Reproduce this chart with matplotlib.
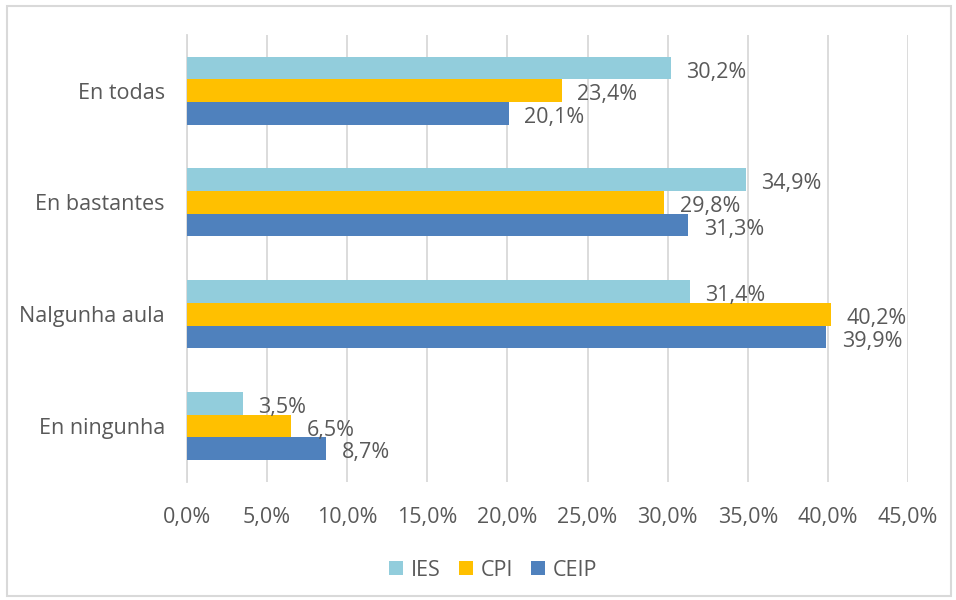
import numpy as np
import matplotlib.pyplot as plt
from matplotlib.ticker import FuncFormatter

categories = ["En todas", "En bastantes", "Nalgunha aula", "En ningunha"]
series = ["IES", "CPI", "CEIP"]
ies = [30.2, 34.9, 31.4, 3.5]
cpi = [23.4, 29.8, 40.2, 6.5]
ceip = [20.1, 31.3, 39.9, 8.7]
colors = ["#92CDDC", "#FFC000", "#4F81BD"]
txt = "#595959"
fs = 15.5

plt.rcParams['font.family'] = ['Open Sans', 'DejaVu Sans']

fig = plt.figure(figsize=(9.56, 6.0), dpi=100)
ax = fig.add_axes([0.1956, 0.197, 0.7542, 0.745])

y = np.arange(len(categories))[::-1].astype(float)
h = 0.203
for i, (name, vals, c) in enumerate(zip(series, [ies, cpi, ceip], colors)):
    pos = y + h * (1 - i)
    ax.barh(pos, vals, height=h, color=c, label=name, zorder=3)
    for p, v in zip(pos, vals):
        ax.annotate(f"{v:.1f}%".replace(".", ","), (v, p), xytext=(11, -3),
                    textcoords="offset points", va="center", ha="left",
                    fontsize=fs, color=txt, zorder=4)

ax.set_xlim(0, 45)
ax.set_ylim(-0.5, 3.5)
ax.set_xticks(np.arange(0, 46, 5))
ax.xaxis.set_major_formatter(FuncFormatter(lambda v, _: f"{v:.1f}%".replace(".", ",")))
ax.set_yticks(y)
ax.set_yticklabels(categories)
ax.tick_params(axis="both", length=0, labelsize=fs, colors=txt)
ax.tick_params(axis="x", pad=18)
ax.tick_params(axis="y", pad=16)
ax.grid(axis="x", color="#D9D9D9", linewidth=1.3, zorder=0)
for s in ["top", "right", "bottom"]:
    ax.spines[s].set_visible(False)
ax.spines["left"].set_color("#D9D9D9")
ax.spines["left"].set_linewidth(1.3)

ax.legend(loc="center", bbox_to_anchor=(0.516, 0.05), bbox_transform=fig.transFigure,
          ncol=3, frameon=False, fontsize=fs, labelcolor=txt,
          handlelength=0.65, handleheight=0.65, handletextpad=0.35, columnspacing=0.85)

fig.patches.append(plt.Rectangle((0.0073, 0.007), 0.9874, 0.983, transform=fig.transFigure,
                                 fill=False, edgecolor="#D9D9D9", linewidth=1.5))
fig.savefig("out.png", dpi=100)
